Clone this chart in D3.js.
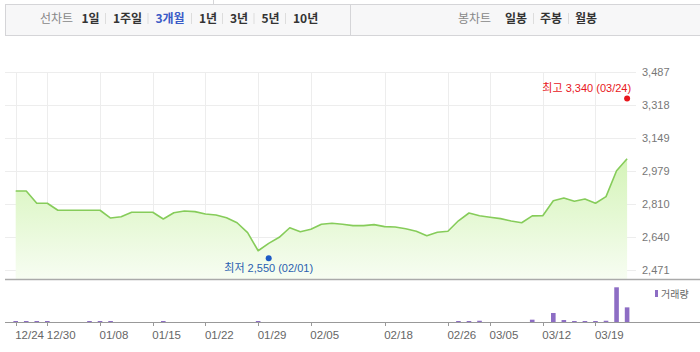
<!DOCTYPE html>
<html><head><meta charset="utf-8">
<script src="https://cdn.jsdelivr.net/npm/d3@7"></script>
<style>
html,body{margin:0;padding:0;background:#fff;}
svg{display:block;font-family:"Liberation Sans","Noto Sans CJK KR",sans-serif;}
</style></head>
<body><svg id="c" width="700" height="352"></svg>
<script>
// ---- data ----
const closes = [2877,2877,2814,2814,2778,2778,2778,2778,2778,2738,2745,2768,2768,2768,2733,2765,2774,2771,2759,2754,2740,2714,2663,2570,2608,2639,2688,2668,2680,2706,2711,2706,2699,2699,2704,2694,2692,2683,2670,2647,2665,2670,2724,2764,2750,2742,2735,2723,2714,2749,2750,2827,2841,2824,2836,2814,2848,2981,3043];
const volumes = [1,1,1,1,0,0,0,4,2,2,0,0,0,0,2,0,0,0,0,0,0,0,0,1,0,0,0,0,0,0,0,0,0,0,0,0,0,0,0,0,0,0,2,2,5,0,0,0,0,8,0,27,7,3,3,3,5,100,43];
const yTicks = [2471,2640,2810,2979,3149,3318,3487];
const xTickIdx = [0,3,8,13,18,23,28,35,41,45,50,55];
const xTickLabels = ['12/24','12/30','01/08','01/15','01/22','01/29','02/05','02/18','02/26','03/05','03/12','03/19'];
const highVal = 3340, highIdx = 58, highDate = '03/24';
const lowVal = 2550, lowIdx = 24, lowDate = '02/01';
const lineMenu = ['1일','1주일','3개월','1년','3년','5년','10년'];
const candleMenu = ['일봉','주봉','월봉'];

const svg = d3.select('#c');

// ---- toolbar ----
svg.append('rect').attr('x',5.5).attr('y',4.5).attr('width',700).attr('height',31).attr('fill','#f7f7f8').attr('stroke','#d5d5d8');
svg.append('line').attr('x1',350.5).attr('x2',350.5).attr('y1',4.5).attr('y2',35.5).attr('stroke','#d5d5d8');
svg.append('line').attr('x1',213.5).attr('x2',213.5).attr('y1',0).attr('y2',4.5).attr('stroke','#d5d5d8');
const tb = svg.append('g').attr('font-size',12).attr('font-family','"Noto Sans CJK KR",sans-serif');
tb.append('text').attr('x',40).attr('y',22.5).attr('fill','#888').text('선차트');
const lineX = [81.5,113,155.5,199,230,261.5,293];
lineMenu.forEach((t,i)=>{
  tb.append('text').attr('x',lineX[i]).attr('y',22.5).attr('font-weight','bold')
    .attr('fill', t==='3개월' ? '#3a5bc7' : '#333').text(t);
  if(i<lineMenu.length-1){
    tb.append('line').attr('x1',lineX[i+1]-7.5).attr('x2',lineX[i+1]-7.5).attr('y1',13).attr('y2',24).attr('stroke','#ddd');
  }
});
tb.append('text').attr('x',458).attr('y',22.5).attr('fill','#888').text('봉차트');
const candX = [505,540,575];
candleMenu.forEach((t,i)=>{
  tb.append('text').attr('x',candX[i]).attr('y',22.5).attr('font-weight','bold').attr('fill','#333').text(t);
  if(i<candleMenu.length-1){
    tb.append('line').attr('x1',candX[i+1]-6.5).attr('x2',candX[i+1]-6.5).attr('y1',13).attr('y2',24).attr('stroke','#ddd');
  }
});

// ---- scales ----
const x = d3.scaleLinear().domain([0, closes.length-1]).range([15.7, 627.1]);
const y = d3.scaleLinear().domain([2471, 3487]).range([270, 72.3]);
const vy = d3.scaleLinear().domain([0, d3.max(volumes)]).range([322.5, 287.3]);

// ---- grid ----
const grid = svg.append('g');
grid.selectAll('line.h').data(yTicks).join('line')
  .attr('x1',5).attr('x2',636).attr('y1',d=>Math.round(y(d))+0.5).attr('y2',d=>Math.round(y(d))+0.5)
  .attr('stroke','#ededed');
grid.selectAll('line.v').data(xTickIdx).join('line')
  .attr('x1',d=>Math.round(x(d))+0.5).attr('x2',d=>Math.round(x(d))+0.5).attr('y1',72).attr('y2',279)
  .attr('stroke','#ededed');

// ---- area + line ----
const defs = svg.append('defs');
const grad = defs.append('linearGradient').attr('id','g').attr('x1',0).attr('x2',0).attr('y1',0).attr('y2',1)
  .attr('gradientUnits','userSpaceOnUse').attr('y1',150).attr('y2',279);
grad.append('stop').attr('offset',0).attr('stop-color','#d2f3b4');
grad.append('stop').attr('offset',1).attr('stop-color','#f7fdf2');
const area = d3.area().x((d,i)=>x(i)).y0(279).y1(d=>y(d));
svg.append('path').datum(closes).attr('d',area).attr('fill','url(#g)');
const line = d3.line().x((d,i)=>x(i)).y(d=>y(d));
svg.append('path').datum(closes).attr('d',line).attr('fill','none').attr('stroke','#86cc5a').attr('stroke-width',1.6).attr('stroke-linejoin','round');

// axis line of price panel
svg.append('line').attr('x1',5).attr('x2',700).attr('y1',279.5).attr('y2',279.5).attr('stroke','#aaa').attr('stroke-width',1.5);

// ---- y axis labels ----
const fmt = d3.format(',');
svg.append('g').selectAll('text').data(yTicks).join('text')
  .attr('x',642).attr('y',d=>y(d)).attr('dy','0.35em').attr('font-size',11).attr('fill','#777').text(d=>fmt(d));

// ---- high / low markers ----
svg.append('circle').attr('cx',x(highIdx)).attr('cy',y(highVal)-2.5).attr('r',3).attr('fill','#e8161c');
svg.append('text').attr('x',x(highIdx)+4).attr('y',y(highVal)-9).attr('text-anchor','end').attr('font-size',11)
  .attr('fill','#e8161c').text(`최고 ${fmt(highVal)} (${highDate})`);
svg.append('circle').attr('cx',x(lowIdx)).attr('cy',y(lowVal)+3.7).attr('r',3).attr('fill','#1e5bc6');
svg.append('text').attr('x',x(lowIdx)).attr('y',y(lowVal)+14).attr('dy','0.35em').attr('text-anchor','middle').attr('font-size',11)
  .attr('fill','#2a5fb0').text(`최저 ${fmt(lowVal)} (${lowDate})`);

// ---- volume ----
svg.append('g').selectAll('rect').data(volumes.map((v,i)=>({v,i})).filter(d=>d.v>0)).join('rect')
  .attr('x',d=>x(d.i)-2.3).attr('width',4.6)
  .attr('y',d=>Math.min(vy(d.v), 321)).attr('height',d=>322.5-Math.min(vy(d.v),321))
  .attr('fill','#8d6dc4');
svg.append('line').attr('x1',5).attr('x2',700).attr('y1',322.5).attr('y2',322.5).attr('stroke','#999');
// x ticks + labels
const xa = svg.append('g');
xa.selectAll('line').data(xTickIdx).join('line')
  .attr('x1',d=>Math.round(x(d))+0.5).attr('x2',d=>Math.round(x(d))+0.5).attr('y1',322.5).attr('y2',326).attr('stroke','#999');
xa.selectAll('text').data(xTickIdx).join('text')
  .attr('x',d=>x(d)-0.5).attr('y',335).attr('dy','0.35em').attr('font-size',11.5).attr('fill','#666')
  .text((d,i)=>xTickLabels[i]);
// legend
svg.append('rect').attr('x',655).attr('y',290).attr('width',3).attr('height',7).attr('fill','#8d6dc4');
svg.append('text').attr('x',661).attr('y',294).attr('dy','0.35em').attr('font-size',10).attr('fill','#666')
  .attr('font-family','"Noto Sans CJK KR",sans-serif').text('거래량');
</script></body></html>
